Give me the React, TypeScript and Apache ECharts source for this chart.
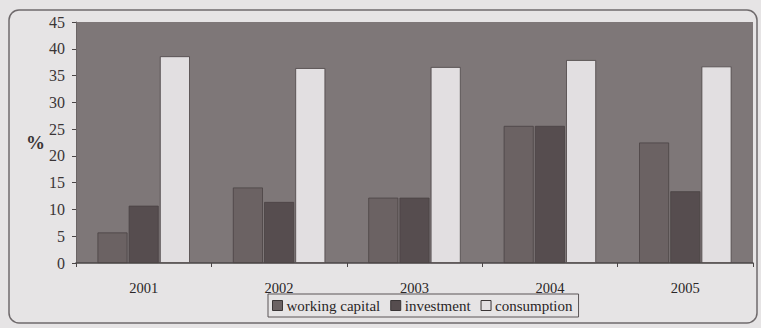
import React, { useEffect, useRef } from "react";
import * as echarts from "echarts";

const years = ["2001", "2002", "2003", "2004", "2005"];
const workingCapital = [5.7, 14.1, 12.2, 25.6, 22.5];
const investment = [10.7, 11.4, 12.2, 25.6, 13.4];
const consumption = [38.6, 36.4, 36.6, 37.9, 36.7];
const yTicks = { min: 0, max: 45, interval: 5 };

const FONT = "'Liberation Serif', 'DejaVu Serif', serif";

export default function App() {
  const ref = useRef<HTMLDivElement>(null);

  useEffect(() => {
    if (!ref.current) return;
    const chart = echarts.init(ref.current, null, { renderer: "svg" });

    const barStyle = (color: string) => ({
      color,
      borderColor: "#4a4244",
      borderWidth: 0.8,
    });

    chart.setOption({
      animation: false,
      backgroundColor: "#e6e4e5",
      textStyle: { fontFamily: FONT },
      graphic: [
        {
          type: "rect",
          shape: { x: 9, y: 10, width: 748, height: 313, r: 10 },
          style: { fill: "none", stroke: "#6f6a6c", lineWidth: 1.5 },
          z: 0,
        },
        {
          type: "text",
          left: 26,
          top: 133,
          style: {
            text: "%",
            font: `bold 19px ${FONT}`,
            fill: "#3a3536",
          },
        },
      ],
      grid: {
        left: 76,
        top: 22,
        right: 8,
        bottom: 65,
        show: true,
        backgroundColor: "#7e7778",
        borderWidth: 0,
      },
      legend: {
        left: 268,
        top: 294,
        icon: "rect",
        itemWidth: 10,
        itemHeight: 10,
        itemGap: 10,
        padding: [4, 6, 4, 4],
        borderColor: "#5a5556",
        borderWidth: 1,
        itemStyle: { borderColor: "#3a3536", borderWidth: 1 },
        textStyle: { fontFamily: FONT, fontSize: 15, color: "#2a2627", padding: [0, 0, 0, -1] },
        data: ["working capital", "investment", "consumption"],
      },
      xAxis: {
        type: "category",
        data: years,
        axisLine: { show: true, lineStyle: { color: "#4a4546", width: 1.5 } },
        axisTick: { show: true, alignWithLabel: false, length: 4, lineStyle: { color: "#4a4546" } },
        axisLabel: { fontFamily: FONT, fontSize: 14.5, color: "#2a2627", margin: 17 },
      },
      yAxis: {
        type: "value",
        min: yTicks.min,
        max: yTicks.max,
        interval: yTicks.interval,
        axisLine: { show: true, lineStyle: { color: "#6a6465" } },
        axisTick: { show: true, length: 4, lineStyle: { color: "#4a4546" } },
        splitLine: { show: false },
        axisLabel: { fontFamily: FONT, fontSize: 16, color: "#3a3536", margin: 11 },
      },
      series: [
        {
          name: "working capital",
          type: "bar",
          data: workingCapital,
          barWidth: 30,
          barGap: "4%",
          itemStyle: barStyle("#6b6263"),
        },
        {
          name: "investment",
          type: "bar",
          data: investment,
          barWidth: 30,
          barGap: "4%",
          itemStyle: barStyle("#564d4f"),
        },
        {
          name: "consumption",
          type: "bar",
          data: consumption,
          barWidth: 30,
          barGap: "4%",
          itemStyle: barStyle("#e2dfe1"),
        },
      ],
    });

    return () => chart.dispose();
  }, []);

  return (
    <div
      ref={ref}
      style={{ position: "fixed", left: 0, top: 0, width: 761, height: 328 }}
    />
  );
}
